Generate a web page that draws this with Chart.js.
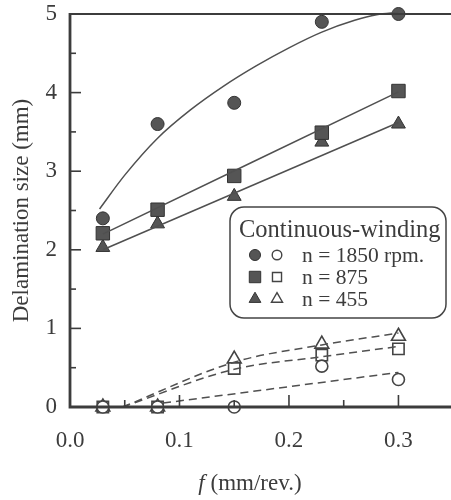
<!DOCTYPE html>
<html lang="en">
<head>
    <meta charset="UTF-8">
    <title>Delamination size vs feed</title>
    <script src="https://cdn.jsdelivr.net/npm/chart.js"></script>
    <style>
        body {
            margin: 0;
            padding: 0;
            background-color: #fff;
            overflow: hidden;
        }
        .chart-box {
            width: 451px;
            height: 500px;
        }
    </style>
</head>
<body>
    <div class="chart-box">
        <canvas id="delamChart"></canvas>
    </div>

    <script>
        // feed rates (mm/rev.)
        const feeds = [0.03, 0.08, 0.15, 0.23, 0.30];

        // filled markers
        const filled1850 = [2.40, 3.60, 3.87, 4.90, 5.00];
        const filled875 = [2.21, 2.51, 2.94, 3.49, 4.02];
        const filled455 = [2.03, 2.33, 2.68, 3.37, 3.60];

        // open markers
        const open1850 = [0, 0, 0, 0.52, 0.35];
        const open875 = [0, 0, 0.49, 0.66, 0.74];
        const open455 = [0, 0, 0.61, 0.80, 0.90];

        // fitted curves
        const fit1850X = [0.027, 0.05, 0.08, 0.11, 0.14, 0.17, 0.20, 0.23, 0.26, 0.28, 0.30];
        const fit1850Y = [2.52, 2.95, 3.42, 3.78, 4.08, 4.34, 4.57, 4.77, 4.92, 4.99, 5.02];
        const fit875X = [0.03, 0.30];
        const fit875Y = [2.20, 4.01];
        const fit455X = [0.03, 0.30];
        const fit455Y = [2.00, 3.62];

        const dash1850X = [0.085, 0.30];
        const dash1850Y = [0.05, 0.44];
        const dash875X = [0.048, 0.15, 0.23, 0.30];
        const dash875Y = [0, 0.48, 0.64, 0.77];
        const dash455X = [0.048, 0.15, 0.23, 0.30];
        const dash455Y = [0, 0.57, 0.79, 0.94];

        const xTicks = [0, 0.05, 0.10, 0.15, 0.20, 0.25, 0.30];
        const yTicks = [0, 0.5, 1, 1.5, 2, 2.5, 3, 3.5, 4, 4.5, 5];

        const legendTitle = 'Continuous-winding';
        const legendLabels = ['n = 1850 rpm.', 'n = 875', 'n = 455'];

        const ink = '#3c3c3c';
        const lineInk = '#505050';
        const markFill = '#555';
        const serif = '"Liberation Serif", "DejaVu Serif", serif';

        function pts(xs, ys) {
            return xs.map((x, i) => ({ x: x, y: ys[i] }));
        }

        function fitLine(xs, ys, dashed) {
            return {
                data: pts(xs, ys),
                showLine: true,
                borderColor: lineInk,
                borderWidth: 1.5,
                borderDash: dashed ? [8, 5] : [],
                pointRadius: 0,
                tension: 0.4,
                cubicInterpolationMode: 'monotone',
                clip: false
            };
        }

        function markers(ys, style, radius, filled) {
            return {
                data: pts(feeds, ys),
                showLine: false,
                pointStyle: style,
                pointRadius: radius,
                pointBackgroundColor: filled ? markFill : '#fff',
                pointBorderColor: filled ? '#333' : '#444',
                pointBorderWidth: filled ? 1 : 1.6,
                clip: false
            };
        }

        const markStyles = [
            { style: 'circle', rFill: 6.5, rOpen: 6 },
            { style: 'rect', rFill: 9.5, rOpen: 8 },
            { style: 'triangle', rFill: 8, rOpen: 8 }
        ];

        function drawMark(ctx, style, r, x, y, filled) {
            ctx.save();
            ctx.beginPath();
            if (style === 'circle') {
                ctx.arc(x, y, r, 0, Math.PI * 2);
            } else if (style === 'rect') {
                const s = Math.SQRT1_2 * r;
                ctx.rect(x - s, y - s, 2 * s, 2 * s);
            } else {
                for (let k = 0; k < 3; k++) {
                    const a = k * 2 * Math.PI / 3;
                    const px = x + Math.sin(a) * r;
                    const py = y - Math.cos(a) * r;
                    if (k === 0) ctx.moveTo(px, py); else ctx.lineTo(px, py);
                }
                ctx.closePath();
            }
            ctx.fillStyle = filled ? markFill : '#fff';
            ctx.strokeStyle = filled ? '#333' : '#444';
            ctx.lineWidth = filled ? 1 : 1.4;
            ctx.fill();
            ctx.stroke();
            ctx.restore();
        }

        // frame, inward ticks, x title and the legend box
        const decorations = {
            id: 'decorations',
            afterDraw(chart) {
                const ctx = chart.ctx;
                const area = chart.chartArea;
                const xs = chart.scales.x;
                const ys = chart.scales.y;
                ctx.save();
                ctx.strokeStyle = ink;
                ctx.lineCap = 'butt';

                // top line
                ctx.lineWidth = 2;
                ctx.beginPath();
                ctx.moveTo(area.left, area.top);
                ctx.lineTo(area.right, area.top);
                ctx.stroke();

                // left and bottom axes
                ctx.lineWidth = 2.8;
                ctx.beginPath();
                ctx.moveTo(area.left, area.top - 1);
                ctx.lineTo(area.left, area.bottom);
                ctx.lineTo(area.right, area.bottom);
                ctx.stroke();

                // ticks pointing into the plot
                ctx.lineWidth = 1.6;
                xTicks.forEach(v => {
                    const px = xs.getPixelForValue(v);
                    const len = Math.abs(v * 10 - Math.round(v * 10)) < 1e-6 ? 12 : 7;
                    if (v === 0) return;
                    ctx.beginPath();
                    ctx.moveTo(px, area.bottom);
                    ctx.lineTo(px, area.bottom - len);
                    ctx.stroke();
                });
                yTicks.forEach(v => {
                    const py = ys.getPixelForValue(v);
                    const len = Number.isInteger(v) ? 11 : 6;
                    if (v === 0 || v === 5) return;
                    ctx.beginPath();
                    ctx.moveTo(area.left, py);
                    ctx.lineTo(area.left + len, py);
                    ctx.stroke();
                });

                // x axis title with italic f
                ctx.fillStyle = ink;
                ctx.textBaseline = 'middle';
                ctx.textAlign = 'left';
                ctx.font = 'italic 23px ' + serif;
                const fW = ctx.measureText('f').width;
                ctx.font = '23px ' + serif;
                const restText = ' (mm/rev.)';
                const restW = ctx.measureText(restText).width;
                const tx = 250 - (fW + restW) / 2;
                ctx.font = 'italic 23px ' + serif;
                ctx.fillText('f', tx, 484);
                ctx.font = '23px ' + serif;
                ctx.fillText(restText, tx + fW, 484);

                // legend box
                const bx = 230, by = 207, bw = 216, bh = 111, br = 14;
                ctx.beginPath();
                ctx.roundRect(bx, by, bw, bh, br);
                ctx.fillStyle = '#fff';
                ctx.fill();
                ctx.lineWidth = 1.5;
                ctx.strokeStyle = '#444';
                ctx.stroke();

                ctx.fillStyle = ink;
                ctx.font = '24.5px ' + serif;
                ctx.textAlign = 'left';
                ctx.fillText(legendTitle, 239, 231);
                ctx.font = '21.5px ' + serif;
                legendLabels.forEach((label, i) => {
                    const rowY = 255 + i * 22;
                    const m = markStyles[i];
                    drawMark(ctx, m.style, m.rFill * 0.85, 255, rowY, true);
                    drawMark(ctx, m.style, m.rOpen * 0.8, 277, rowY, false);
                    ctx.fillStyle = ink;
                    ctx.fillText(label, 302, rowY + 1);
                });
                ctx.restore();
            }
        };

        const datasets = [
            fitLine(fit1850X, fit1850Y, false),
            fitLine(fit875X, fit875Y, false),
            fitLine(fit455X, fit455Y, false),
            fitLine(dash1850X, dash1850Y, true),
            fitLine(dash875X, dash875Y, true),
            fitLine(dash455X, dash455Y, true),
            markers(filled1850, 'circle', markStyles[0].rFill, true),
            markers(filled875, 'rect', markStyles[1].rFill, true),
            markers(filled455, 'triangle', markStyles[2].rFill, true),
            markers(open1850, 'circle', markStyles[0].rOpen, false),
            markers(open875, 'rect', markStyles[1].rOpen, false),
            markers(open455, 'triangle', markStyles[2].rOpen, false)
        ];

        new Chart(document.getElementById('delamChart').getContext('2d'), {
            type: 'scatter',
            data: { datasets: datasets },
            options: {
                responsive: true,
                maintainAspectRatio: false,
                animation: false,
                layout: {
                    autoPadding: false,
                    padding: { top: 14, right: 0, left: 0, bottom: 0 }
                },
                plugins: {
                    legend: { display: false },
                    tooltip: { enabled: false }
                },
                scales: {
                    x: {
                        type: 'linear',
                        min: 0,
                        max: 0.348,
                        afterBuildTicks: scale => {
                            scale.ticks = xTicks.map(v => ({ value: v }));
                        },
                        afterFit: scale => {
                            scale.height = 93;
                            scale.paddingLeft = 0;
                            scale.paddingRight = 0;
                        },
                        grid: { display: false, drawTicks: false },
                        border: { display: false },
                        ticks: {
                            padding: 20,
                            color: ink,
                            font: { family: serif, size: 23 },
                            maxRotation: 0,
                            autoSkip: false,
                            callback: v => Math.abs(v * 10 - Math.round(v * 10)) < 1e-6 ? v.toFixed(1) : ''
                        }
                    },
                    y: {
                        min: 0,
                        max: 5,
                        afterBuildTicks: scale => {
                            scale.ticks = yTicks.map(v => ({ value: v }));
                        },
                        afterFit: scale => {
                            scale.width = 70;
                            scale.paddingTop = 0;
                            scale.paddingBottom = 0;
                        },
                        grid: { display: false, drawTicks: false },
                        border: { display: false },
                        ticks: {
                            padding: 13,
                            color: ink,
                            font: { family: serif, size: 23 },
                            autoSkip: false,
                            callback: v => Number.isInteger(v) ? String(v) : ''
                        },
                        title: {
                            display: true,
                            text: 'Delamination size (mm)',
                            color: ink,
                            font: { family: serif, size: 23 },
                            padding: { top: 8, bottom: 0 }
                        }
                    }
                }
            },
            plugins: [decorations]
        });
    </script>
</body>
</html>
